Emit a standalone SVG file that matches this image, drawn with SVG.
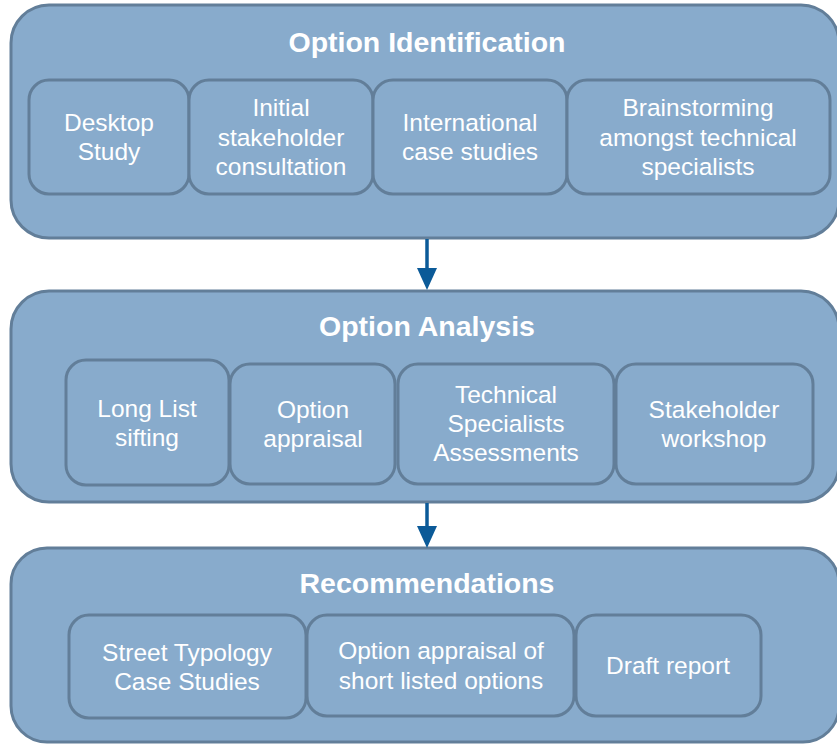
<svg xmlns="http://www.w3.org/2000/svg" width="837" height="745" viewBox="0 0 837 745">
  <style>
    .stage { fill: #88ABCC; stroke: #627E99; stroke-width: 3; }
    .task { fill: #88ABCC; stroke: #627E99; stroke-width: 3; }
    .title { font-family: "Liberation Sans", Arial, sans-serif; font-size: 28.5px; font-weight: bold; fill: #FFFFFF; text-anchor: middle; }
    .label { font-family: "Liberation Sans", Arial, sans-serif; font-size: 24.5px; fill: #FFFFFF; text-anchor: middle; }
    .flow { stroke: #0B5A98; stroke-width: 3.5; fill: none; }
  </style>
  <defs>
    <!-- triangular head drawn along +x so orient="auto" points it down the line -->
    <marker id="arrowhead" markerWidth="22" markerHeight="20" refX="12" refY="10" orient="auto" markerUnits="userSpaceOnUse" viewBox="0 0 22 20">
      <path d="M0,0 L22,10 L0,20 Z" fill="#0B5A98"/>
    </marker>
  </defs>
  <rect width="837" height="745" fill="#FFFFFF"/>

  <!-- Stage 1 -->
  <g id="option-identification">
    <rect class="stage" x="11" y="5" width="828" height="233" rx="38" ry="38"/>
    <text class="title" x="427" y="52">Option Identification</text>
  </g>
  <g id="desktop-study">
    <rect class="task" x="29" y="80" width="160" height="114" rx="20" ry="20"/>
    <text class="label" x="109" y="131">Desktop</text>
    <text class="label" x="109" y="160">Study</text>
  </g>
  <g id="initial-consultation">
    <rect class="task" x="189" y="80" width="184" height="114" rx="20" ry="20"/>
    <text class="label" x="281" y="116">Initial</text>
    <text class="label" x="281" y="146">stakeholder</text>
    <text class="label" x="281" y="175">consultation</text>
  </g>
  <g id="international-case-studies">
    <rect class="task" x="373" y="80" width="194" height="114" rx="20" ry="20"/>
    <text class="label" x="470" y="131">International</text>
    <text class="label" x="470" y="160">case studies</text>
  </g>
  <g id="brainstorming">
    <rect class="task" x="567" y="80" width="263" height="114" rx="20" ry="20"/>
    <text class="label" x="698" y="116">Brainstorming</text>
    <text class="label" x="698" y="146">amongst technical</text>
    <text class="label" x="698" y="175">specialists</text>
  </g>

  <!-- Stage 2 -->
  <g id="option-analysis">
    <rect class="stage" x="11" y="291" width="828" height="211" rx="38" ry="38"/>
    <text class="title" x="427" y="336">Option Analysis</text>
  </g>
  <g id="long-list-sifting">
    <rect class="task" x="66" y="360" width="163" height="125" rx="20" ry="20"/>
    <text class="label" x="147" y="417">Long List</text>
    <text class="label" x="147" y="446">sifting</text>
  </g>
  <g id="option-appraisal">
    <rect class="task" x="230" y="364" width="165" height="120" rx="20" ry="20"/>
    <text class="label" x="313" y="418">Option</text>
    <text class="label" x="313" y="447">appraisal</text>
  </g>
  <g id="technical-assessments">
    <rect class="task" x="398" y="364" width="216" height="120" rx="20" ry="20"/>
    <text class="label" x="506" y="403">Technical</text>
    <text class="label" x="506" y="432">Specialists</text>
    <text class="label" x="506" y="461">Assessments</text>
  </g>
  <g id="stakeholder-workshop">
    <rect class="task" x="616" y="364" width="197" height="120" rx="20" ry="20"/>
    <text class="label" x="714" y="418">Stakeholder</text>
    <text class="label" x="714" y="447">workshop</text>
  </g>

  <!-- Stage 3 -->
  <g id="recommendations">
    <rect class="stage" x="11" y="548" width="828" height="194" rx="36" ry="36"/>
    <text class="title" x="427" y="593">Recommendations</text>
  </g>
  <g id="street-typology">
    <rect class="task" x="69" y="615" width="237" height="103" rx="20" ry="20"/>
    <text class="label" x="187" y="661">Street Typology</text>
    <text class="label" x="187" y="690">Case Studies</text>
  </g>
  <g id="shortlist-appraisal">
    <rect class="task" x="307" y="615" width="267" height="101" rx="20" ry="20"/>
    <text class="label" x="441" y="659">Option appraisal of</text>
    <text class="label" x="441" y="689">short listed options</text>
  </g>
  <g id="draft-report">
    <rect class="task" x="576" y="615" width="185" height="101" rx="20" ry="20"/>
    <text class="label" x="668" y="674">Draft report</text>
  </g>

  <!-- Connectors -->
  <g id="connectors">
    <line class="flow" x1="427" y1="239" x2="427" y2="280" marker-end="url(#arrowhead)"/>
    <line class="flow" x1="427" y1="503" x2="427" y2="538" marker-end="url(#arrowhead)"/>
  </g>
</svg>
